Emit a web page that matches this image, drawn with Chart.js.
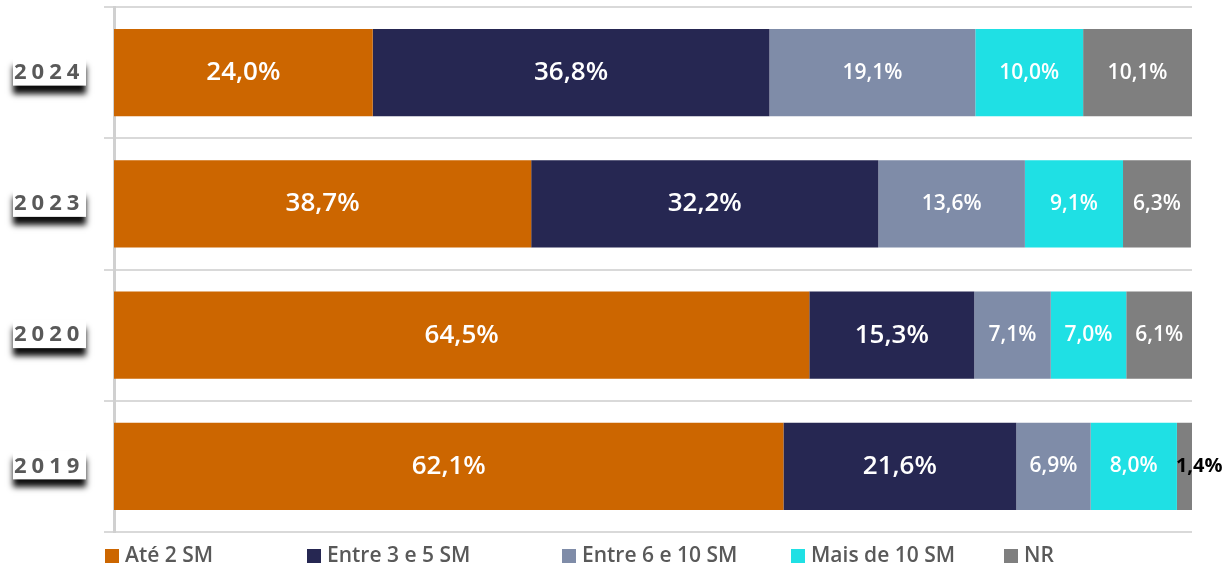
<!DOCTYPE html>
<html>
<head>
<meta charset="utf-8">
<script src="https://cdn.jsdelivr.net/npm/chart.js@4/dist/chart.umd.min.js"></script>
<style>
  html, body { margin: 0; padding: 0; background: #fff; }
  #wrap { width: 1229px; height: 569px; position: relative; }
</style>
</head>
<body>
<div id="wrap"><canvas id="bar_chart"></canvas></div>
<script>
var years = ["2024", "2023", "2020", "2019"];
var seriesNames = ["Até 2 SM", "Entre 3 e 5 SM", "Entre 6 e 10 SM", "Mais de 10 SM", "NR"];
var ate2 = [24.0, 38.7, 64.5, 62.1];
var entre3e5 = [36.8, 32.2, 15.3, 21.6];
var entre6e10 = [19.1, 13.6, 7.1, 6.9];
var mais10 = [10.0, 9.1, 7.0, 8.0];
var nr = [10.1, 6.3, 6.1, 1.4];
var colors = ['#cc6600', '#262752', '#7f8ca8', '#1fe0e4', '#7f7f7f'];

var FONT = "'Open Sans', 'Noto Sans', sans-serif";
// x of each legend marker
var legendX = [105, 307, 562, 791, 1004];

function fmt(v) {
    return v.toFixed(1).replace('.', ',') + '%';
}

// year labels at the left, white box with a dark shadow under it
var yearLabels = {
    id: 'yearLabels',
    beforeDatasetsDraw: function (chart) {
        var ctx = chart.ctx;
        var y = chart.scales.y;
        ctx.save();
        y.ticks.forEach(function (t, i) {
            var py = y.getPixelForTick(i);
            ctx.save();
            ctx.shadowColor = 'rgba(0,0,0,0.95)';
            ctx.shadowBlur = 6;
            ctx.shadowOffsetY = 8;
            ctx.fillStyle = '#fff';
            ctx.fillRect(13, py - 15, 73, 28);
            ctx.restore();
            ctx.font = 'bold 22px ' + FONT;
            ctx.letterSpacing = '5px';
            ctx.fillStyle = '#595959';
            ctx.textAlign = 'left';
            ctx.textBaseline = 'middle';
            ctx.fillText(years[i], 14, py);
        });
        ctx.restore();
    }
};

var valueLabels = {
    id: 'valueLabels',
    afterDatasetsDraw: function (chart) {
        var ctx = chart.ctx;
        ctx.save();
        ctx.textBaseline = 'middle';
        chart.data.datasets.forEach(function (ds, di) {
            var meta = chart.getDatasetMeta(di);
            meta.data.forEach(function (bar, i) {
                var v = ds.data[i];
                var left = Math.min(bar.x, bar.base);
                var right = Math.max(bar.x, bar.base);
                if (v < 3) {
                    ctx.font = 'bold 20px ' + FONT;
                    ctx.fillStyle = '#000';
                    ctx.textAlign = 'left';
                    ctx.fillText(fmt(v), left - 1, bar.y);
                    return;
                }
                ctx.font = (di < 2 ? '600 26px ' : '600 21px ') + FONT;
                ctx.fillStyle = '#fff';
                ctx.textAlign = 'center';
                ctx.fillText(fmt(v), (left + right) / 2, bar.y);
            });
        });
        ctx.restore();
    }
};

// legend drawn along the bottom
var bottomLegend = {
    id: 'bottomLegend',
    afterDraw: function (chart) {
        var ctx = chart.ctx;
        var y = 556;
        ctx.save();
        ctx.font = '600 21px ' + FONT;
        ctx.textBaseline = 'middle';
        ctx.textAlign = 'left';
        chart.data.datasets.forEach(function (ds, i) {
            var x = legendX[i];
            ctx.fillStyle = ds.backgroundColor;
            ctx.fillRect(x, y - 7, 14, 14);
            ctx.fillStyle = '#595959';
            ctx.fillText(ds.label, x + 20, y);
        });
        ctx.restore();
    }
};

var seriesData = [ate2, entre3e5, entre6e10, mais10, nr];

new Chart(document.getElementById("bar_chart").getContext("2d"), {
    type: 'bar',
    data: {
        labels: years,
        datasets: seriesNames.map(function (name, i) {
            return {
                label: name,
                data: seriesData[i],
                backgroundColor: colors[i],
                borderWidth: 0,
                categoryPercentage: 1,
                barPercentage: 0.665
            };
        })
    },
    options: {
        indexAxis: 'y',
        responsive: true,
        maintainAspectRatio: false,
        animation: false,
        layout: { padding: { left: 104, right: 37, top: 7, bottom: 37 } },
        plugins: {
            legend: { display: false },
            tooltip: { enabled: false }
        },
        scales: {
            x: {
                stacked: true,
                min: 0,
                max: 100,
                display: false
            },
            y: {
                stacked: true,
                ticks: { display: false },
                grid: {
                    color: '#d9d9d9',
                    lineWidth: 2,
                    tickLength: 10,
                    offset: true
                },
                border: { color: '#d0d0d0', width: 3 }
            }
        }
    },
    plugins: [yearLabels, valueLabels, bottomLegend]
});
</script>
</body>
</html>
